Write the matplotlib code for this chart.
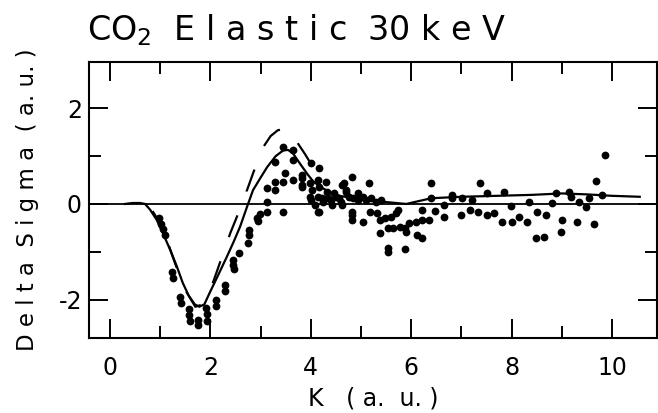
import matplotlib.pyplot as plt
import numpy as np

plt.rcParams['axes.unicode_minus'] = False
plt.rcParams['font.family'] = 'DejaVu Sans'

# theory curve (solid)
theory_k = [0.3, 0.45, 0.6, 0.7, 0.8, 0.93, 1.05, 1.2, 1.33, 1.45, 1.57, 1.69, 1.78,
            1.88, 1.99, 2.15, 2.33, 2.46, 2.59, 2.75, 2.85, 3.0, 3.13, 3.3, 3.45,
            3.55, 3.65, 3.8, 3.95, 4.05, 4.2, 4.5, 5.0, 5.5, 5.9, 6.4, 7.0, 7.7,
            8.4, 9.0, 9.5, 10.0, 10.55]
theory_ds = [0.0, 0.02, 0.02, 0.0, -0.12, -0.33, -0.6, -0.96, -1.3, -1.65, -1.92, -2.1, -2.15,
             -2.1, -1.85, -1.5, -1.1, -0.8, -0.48, 0.0, 0.29, 0.55, 0.77, 1.0, 1.12,
             1.13, 1.05, 0.82, 0.6, 0.47, 0.35, 0.18, 0.1, 0.04, 0.0, 0.12, 0.15, 0.17,
             0.19, 0.22, 0.2, 0.17, 0.15]

# second theory (dashed)
dash_k = [0.85, 0.95, 1.05, 1.15, 1.3, 1.5, 1.7, 1.85, 2.0, 2.2, 2.4, 2.52, 2.72, 2.85,
          3.04, 3.2, 3.34, 3.5, 3.62, 3.74, 3.88, 4.02, 4.15]
dash_ds = [-0.15, -0.32, -0.55, -0.8, -1.25, -1.8, -2.15, -2.1, -1.8, -1.2, -0.6, -0.29, 0.26, 0.64,
           1.17, 1.42, 1.54, 1.58, 1.5, 1.27, 1.05, 0.81, 0.6]

# measured points
exp_k = [0.98, 1.02, 1.06, 1.10, 1.23, 1.25, 1.39, 1.41, 1.57, 1.58, 1.59, 1.75, 1.76,
         1.92, 1.93, 1.94, 2.11, 2.12, 2.29, 2.30, 2.45, 2.46, 2.47, 2.58, 2.74, 2.76,
         2.77, 2.92, 2.95, 2.99, 3.12, 3.12, 3.44, 4.14, 3.12, 3.28, 3.28, 3.28, 3.44,
         3.64, 3.64, 3.44, 3.48, 3.64, 3.82, 3.82, 3.82, 3.82, 4.00, 4.16, 3.98, 4.03,
         3.98, 4.14, 4.17, 4.31, 4.33, 4.14, 4.23, 4.41, 4.51, 4.63, 4.71, 4.83, 4.57,
         4.77, 4.93, 5.03, 5.10, 4.17, 4.83, 5.15, 4.00, 4.08, 4.43, 4.63, 4.67, 4.71,
         4.93, 4.25, 4.35, 4.47, 4.60, 4.85, 5.20, 5.30, 5.40,
         4.83, 4.83, 5.03, 5.17, 5.31, 5.37, 5.47, 5.60, 5.70, 5.73, 5.37, 5.53, 5.63,
         5.77, 5.87, 5.90, 5.96, 6.10, 6.22, 6.36, 6.12, 6.22, 5.53, 5.53, 5.88, 6.22,
         6.48, 6.66, 6.66, 7.00, 7.16, 7.32, 7.50, 7.65, 7.81, 8.01, 8.15, 8.31, 7.99,
         8.35, 8.49, 8.65, 8.51, 8.69, 8.81, 8.99, 9.01, 9.30, 9.48, 9.64, 9.34,
         6.40, 7.36, 6.40, 6.82, 6.82, 7.02, 7.20, 7.51, 7.85, 8.88, 9.15, 9.18, 9.54,
         9.80, 9.68, 9.86]
exp_ds = [-0.30, -0.42, -0.52, -0.64, -1.42, -1.55, -1.94, -2.08, -2.20, -2.32, -2.44, -2.42, -2.54,
          -2.17, -2.30, -2.44, -2.00, -2.14, -1.69, -1.83, -1.17, -1.27, -1.37, -1.02, -0.81, -0.54,
          -0.65, -0.29, -0.36, -0.22, 0.04, -0.17, -0.17, -0.17, 0.33, 0.29, 0.46, 0.88, 1.19,
          1.13, 0.92, 0.46, 0.64, 0.50, 0.60, 0.54, 0.36, 0.40, 0.86, 0.75, 0.44, 0.29,
          0.15, 0.50, 0.35, 0.46, 0.25, 0.15, 0.13, 0.08, 0.15, 0.40, 0.29, 0.56, 0.13,
          0.15, 0.08, 0.15, 0.08, -0.17, -0.17, 0.44, 0.08, -0.02, -0.02, -0.02, 0.44, 0.25,
          0.23, 0.05, 0.12, 0.22, 0.05, 0.12, 0.12, 0.05, 0.08,
          -0.23, -0.33, -0.37, -0.17, -0.19, -0.33, -0.29, -0.27, -0.19, -0.13, -0.60, -0.50, -0.50,
          -0.48, -0.50, -0.58, -0.40, -0.37, -0.33, -0.33, -0.65, -0.71, -0.92, -1.00, -0.94, -0.13,
          -0.15, -0.27, -0.02, -0.23, -0.13, -0.17, -0.23, -0.19, -0.37, -0.37, -0.27, -0.37, -0.04,
          0.04, -0.71, -0.69, -0.17, -0.24, 0.01, -0.59, -0.34, -0.37, -0.06, -0.41, 0.04,
          0.43, 0.43, 0.13, 0.19, 0.12, 0.13, 0.08, 0.22, 0.25, 0.23, 0.25, 0.15, 0.13,
          0.19, 0.48, 1.02]

fig = plt.figure(figsize=(6.58, 4.13), dpi=100)
ax = fig.add_axes([0.135, 0.182, 0.864, 0.668])
ax.set_xlim(-0.42, 10.9)
ax.set_ylim(-2.8, 2.97)

lw = 1.6
ax.axhline(0, color='k', lw=1.3)
ax.plot(theory_k, theory_ds, color='k', lw=lw)

# phase the dash pattern so that a dash starts where the curve crosses zero
on, off = 10.5, 11.5
pix = ax.transData.transform(np.column_stack([dash_k, dash_ds]))
seg = np.hypot(*np.diff(pix, axis=0).T) * 72 / fig.dpi / lw
start = seg[:12].sum()
offset = (on + off) - start % (on + off)
ax.plot(dash_k, dash_ds, color='k', lw=lw, linestyle=(offset, (on, off)))

ax.plot(exp_k, exp_ds, 'o', color='k', ms=5.6, mew=0)

ax.set_xticks([0, 2, 4, 6, 8, 10])
ax.set_xticks([1, 3, 5, 7, 9], minor=True)
ax.set_yticks([-2, 0, 2])
ax.set_yticks([-1, 1], minor=True)
ax.tick_params(which='both', direction='in', top=True, right=True, width=1.4, labelsize=17)
ax.tick_params(which='major', length=14)
ax.tick_params(which='minor', length=8.5)
ax.tick_params(axis='x', pad=13)
ax.tick_params(axis='y', pad=5)
for s in ax.spines.values():
    s.set_linewidth(1.5)

ax.set_xlabel('K   ( a.  u. )', fontsize=17, labelpad=5)
ax.set_ylabel('D e l t a  S i g m a  ( a. u. )', fontsize=16.5, labelpad=14)

fig.text(87 / 658, 1 - 40 / 413, 'CO$_2$  E l a s t i c  30 k e V', fontsize=24,
         ha='left', va='baseline')

plt.savefig('out.png', dpi=100)
